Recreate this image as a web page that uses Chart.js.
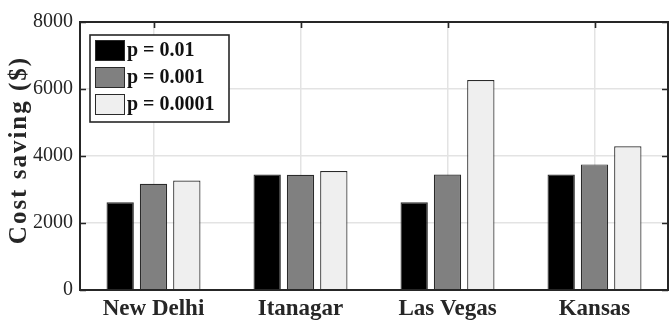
<!DOCTYPE html>
<html>
<head>
<meta charset="utf-8">
<script src="https://cdn.jsdelivr.net/npm/chart.js@4"></script>
<style>
  html, body { margin: 0; padding: 0; background: #fff; }
  #wrap { width: 670px; height: 325px; }
</style>
</head>
<body>
<div id="wrap"><canvas id="myChart" width="670" height="325"></canvas></div>
<script>
// data
const cities = ["New Delhi", "Itanagar", "Las Vegas", "Kansas"];
const seriesLabels = ["p = 0.01", "p = 0.001", "p = 0.0001"];
const savingP01 = [2620, 3450, 2620, 3450];
const savingP001 = [3170, 3440, 3450, 3750];
const savingP0001 = [3270, 3550, 6270, 4290];
const yTicks = [0, 2000, 4000, 6000, 8000];
const yTitle = "Cost saving ($)";

const barColors = ["#000000", "#808080", "#efefef"];
const inkColor = "#262626";
const gridColor = "#e3e3e3";
const serif = "'Liberation Serif', 'Times New Roman', serif";

const datasets = [savingP01, savingP001, savingP0001].map((values, i) => ({
  label: seriesLabels[i],
  data: values,
  backgroundColor: barColors[i],
  borderColor: "#2a2a2a",
  borderWidth: 1.2,
  borderSkipped: "start",
  categoryPercentage: 0.68,
  barPercentage: 0.82,
}));

// box around the plot + inward tick marks (matlab style)
const axesBox = {
  id: "axesBox",
  afterDatasetsDraw(chart) {
    const { ctx, chartArea: { left, right, top, bottom }, scales: { x, y } } = chart;
    ctx.save();
    ctx.strokeStyle = inkColor;
    ctx.lineWidth = 1.6;
    ctx.beginPath();
    yTicks.forEach((v) => {
      const py = Math.round(y.getPixelForValue(v)) + 0.5;
      ctx.moveTo(left, py); ctx.lineTo(left + 6, py);
      ctx.moveTo(right, py); ctx.lineTo(right - 6, py);
    });
    cities.forEach((_, i) => {
      const px = Math.round(x.getPixelForValue(i)) + 0.5;
      ctx.moveTo(px, top); ctx.lineTo(px, top + 6);
    });
    ctx.stroke();
    ctx.lineWidth = 2;
    ctx.strokeRect(left, top, right - left, bottom - top);
    ctx.restore();
  },
  afterDraw(chart) {
    const { ctx, chartArea: { top, bottom } } = chart;
    // y axis title, spaced out like the original's wide bold face
    ctx.save();
    ctx.fillStyle = inkColor;
    ctx.font = "bold 25px " + serif;
    ctx.letterSpacing = "2px";
    ctx.textAlign = "center";
    ctx.textBaseline = "alphabetic";
    ctx.translate(26, (top + bottom) / 2 - 6);
    ctx.rotate(-Math.PI / 2);
    ctx.fillText(yTitle, 0, 0);
    ctx.restore();

    // legend box in the upper left corner
    const bx = 90, by = 35, bw = 139, bh = 87;
    ctx.save();
    ctx.fillStyle = "#fff";
    ctx.fillRect(bx, by, bw, bh);
    ctx.strokeStyle = inkColor;
    ctx.lineWidth = 1.6;
    ctx.strokeRect(bx, by, bw, bh);
    chart.data.datasets.forEach((ds, i) => {
      const sy = by + 5 + i * 27;
      ctx.fillStyle = ds.backgroundColor;
      ctx.fillRect(bx + 5, sy, 30, 21);
      ctx.strokeStyle = "#2a2a2a";
      ctx.lineWidth = 1;
      ctx.strokeRect(bx + 5.5, sy + 0.5, 29, 20);
      ctx.fillStyle = "#111";
      ctx.font = "bold 20px " + serif;
      ctx.textAlign = "left";
      ctx.textBaseline = "middle";
      ctx.fillText(ds.label, bx + 37, sy + 11);
    });
    ctx.restore();
  },
};

new Chart(document.getElementById("myChart"), {
  type: "bar",
  data: { labels: cities, datasets },
  options: {
    responsive: false,
    animation: false,
    devicePixelRatio: 1,
    layout: { padding: { top: 22, right: 2, left: 0, bottom: 0 } },
    scales: {
      x: {
        grid: { color: gridColor, lineWidth: 1.5, offset: false, drawTicks: false },
        border: { display: false },
        ticks: {
          color: inkColor,
          padding: 5,
          font: { family: serif, size: 23, weight: "bold" },
        },
        afterFit(scale) { scale.height = 35; },
      },
      y: {
        min: 0,
        max: 8000,
        grid: { color: gridColor, lineWidth: 1.5, drawTicks: false },
        border: { display: false },
        afterBuildTicks(scale) { scale.ticks = yTicks.map((v) => ({ value: v })); },
        ticks: {
          color: inkColor,
          padding: 7,
          font: { family: serif, size: 20 },
          callback: (value) => String(value),
        },
        afterFit(scale) { scale.width = 80; },
      },
    },
    plugins: {
      legend: { display: false },
      tooltip: { enabled: false },
    },
  },
  plugins: [axesBox],
});
</script>
</body>
</html>
